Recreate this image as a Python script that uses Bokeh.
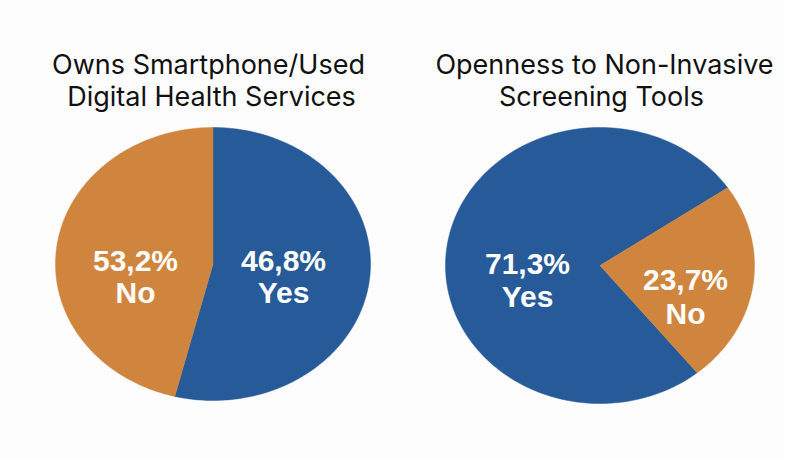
import numpy as np
from bokeh.plotting import figure
from bokeh.models import ColumnDataSource, Range1d
from bokeh.core.properties import value
from bokeh.embed import file_html
from bokeh.resources import INLINE

# ---- data ----
titles_left = ["Owns Smartphone/Used", "Digital Health Services"]
titles_right = ["Openness to Non-Invasive", "Screening Tools"]
categories = ["Yes", "No"]
# shares as labelled in the chart
left_pct_labels = ["46,8%", "53,2%"]
right_pct_labels = ["71,3%", "23,7%"]
# slice shares as drawn in the picture (percent of the circle)
left_slice_share = [53.9, 46.1]
right_slice_share = [76.3, 23.7]

BLUE = "#265A98"
ORANGE = "#D0853F"
colors = [BLUE, ORANGE]

W, H = 784, 457
p = figure(width=W, height=H, output_backend="svg", toolbar_location=None,
           x_range=Range1d(0, W), y_range=Range1d(0, H), min_border=0,
           background_fill_color="#FDFDFD", border_fill_color="#FDFDFD")
p.axis.visible = False
p.grid.visible = False
p.outline_line_color = None


def Y(img_y):
    return H - img_y


def X(img_x):
    return img_x


def pie(cx, cy, rx, ry, shares, start_deg, direction):
    xs, ys = [], []
    a0 = np.radians(start_deg)
    for s in shares:
        span = 2 * np.pi * s / 100.0 * direction
        t = np.linspace(a0, a0 + span, 200)
        xs.append(list(np.concatenate([[cx], cx + rx * np.cos(t)])))
        ys.append(list(np.concatenate([[cy], cy + ry * np.sin(t)])))
        a0 += span
    src = ColumnDataSource(dict(xs=xs, ys=ys, color=colors, cat=categories))
    p.patches("xs", "ys", source=src, fill_color="color", line_color="color", line_width=0.5)


# left pie: Yes clockwise from top
pie(X(212.5), Y(263.5), 157.5, 136.5, left_slice_share, 90, -1)
# right pie: Yes counterclockwise from upper-right boundary, No after it
pie(X(599.5), Y(265), 154.5, 138, right_slice_share, 34.3, 1)

font = value("Inter")
lfont = value("Liberation Sans")

# titles
tx = [X(208), X(211), X(604), X(601)]
ty = [Y(64), Y(96), Y(64), Y(96)]
p.text(x=tx, y=ty, text=titles_left + titles_right, text_font=font,
       text_font_size="27px", text_color="#111111", text_align="center",
       text_baseline="middle")

# slice labels
lx = [X(283), X(135), X(527), X(685)]
ly = [Y(260), Y(260), Y(263), Y(279)]
p.text(x=lx, y=ly, text=left_pct_labels + right_pct_labels, text_font=lfont,
       text_font_size="30px", text_font_style="bold", text_color="white",
       text_align="center", text_baseline="middle")
cx2 = [X(283), X(135), X(527), X(685)]
cy2 = [Y(292), Y(292), Y(296), Y(313)]
p.text(x=cx2, y=cy2, text=categories + categories, text_font=lfont,
       text_font_size="30px", text_font_style="bold", text_color="white",
       text_align="center", text_baseline="middle")

open("out.html", "w").write(file_html(p, INLINE))
